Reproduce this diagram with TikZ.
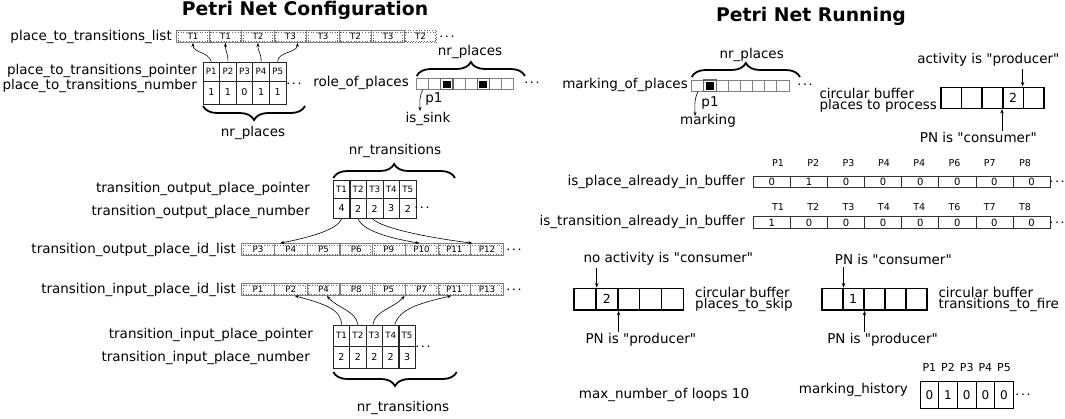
\documentclass[tikz,border=0pt]{standalone}
\usepackage{fontspec}
\setmainfont{DejaVu Sans}[Ligatures=TeXOff]
\usetikzlibrary{arrows.meta,decorations.pathreplacing,calc}
\tikzset{
  lbl/.style={inner sep=0pt, font=\fontsize{13.5}{15}\selectfont},
  lbltwo/.style={inner sep=0pt, align=left, font=\fontsize{13.5}{11.7}\selectfont},
  ttl/.style={inner sep=0pt, font=\fontsize{18.8}{20}\selectfont\bfseries},
  lcell/.style={draw=black!50, line width=0.7pt, minimum width=32.6pt, minimum height=12pt, inner sep=0pt, font=\fontsize{8.7}{9}\selectfont},
  grp/.style={draw=black!60, dotted, line width=0.7pt},
  tcell/.style={draw=black!85, line width=0.8pt, minimum width=16.6pt, inner sep=0pt, font=\fontsize{8.7}{9}\selectfont},
  tval/.style={font=\fontsize{9.5}{10}\selectfont},
  scell/.style={draw=black!50, line width=0.8pt, minimum width=12.1pt, minimum height=11pt, inner sep=0pt},
  blk/.style={scell, draw=black!60, line width=1.1pt, path picture={\fill[black] ([shift={(2pt,2pt)}]path picture bounding box.south west) rectangle ([shift={(-2pt,-2pt)}]path picture bounding box.north east);}},
  bcell/.style={draw=black, line width=1.6pt, inner sep=0pt, font=\fontsize{12.5}{12.5}\selectfont},
  acell/.style={draw=black!80, line width=0.7pt, minimum width=37.1pt, minimum height=11.4pt, inner sep=0pt, font=\fontsize{10}{10}\selectfont},
  hcell/.style={draw=black, line width=0.9pt, minimum width=18.7pt, minimum height=26.6pt, inner sep=0pt, font=\fontsize{12}{12}\selectfont},
  hdr/.style={inner sep=0pt, font=\fontsize{9.5}{10}\selectfont},
  hdrb/.style={inner sep=0pt, font=\fontsize{11}{11}\selectfont},
  dots/.style={inner sep=0pt, font=\fontsize{11}{11}\selectfont},
  brc/.style={decorate, decoration={brace, amplitude=14pt}, line width=1.8pt},
  arr/.style={-{Stealth[length=4pt,width=3pt]}, line width=0.6pt},
  varr/.style={-{Stealth[length=4.5pt,width=3.5pt]}, line width=0.8pt},
}
\newcommand{\mydots}{{\boldmath$\cdots$}}
\begin{document}
\begin{tikzpicture}[x=1pt,y=-1pt]
\useasboundingbox[fill=white] (0,0) rectangle (1065,418);

% ---------- titles
\node[ttl] (t1) at (305,10.5) {Petri Net Configuration};
\node[ttl] (t2) at (811,16.5) {Petri Net Running};

% ---------- place_to_transitions_list
\node[lbl, anchor=east] (lptl) at (172,36.5) {place\_to\_transitions\_list};
\foreach \lab [count=\i] in {T1,T1,T2,T3,T3,T2,T3}{
  \node[lcell] (pl\i) at ({192.95+32.5*(\i-1)},36.5) {\lab};
  \draw[grp] ([shift={(2pt,-2pt)}]pl\i.north west) rectangle ([shift={(-2pt,2pt)}]pl\i.south east);
}
\node[lcell, draw=black!60, dotted] (pl8) at (420.45,36.5) {T2};
\draw[grp] ([shift={(2pt,-2pt)}]pl8.north west) rectangle ([shift={(-2pt,2pt)}]pl8.south east);
\node[dots] (pld) at (447,36.5) {\mydots};

% ---------- place_to_transitions pointer / number
\node[lbl, anchor=east] (lptp) at (197,71) {place\_to\_transitions\_pointer};
\node[lbl, anchor=east] (lptn) at (197,86) {place\_to\_transitions\_number};
\foreach \p/\n [count=\i] in {P1/1,P2/1,P3/0,P4/1,P5/1}{
  \node[tcell, minimum height=19pt] (ptp\i) at ({211.3+16.6*(\i-1)},71.5) {\p};
  \node[tcell, tval, minimum height=23pt] (ptn\i) at ({211.3+16.6*(\i-1)},92.5) {\n};
}
\node[dots] (ptd) at (294,84) {\mydots};
\draw[brc] (305,106) -- (203,106);
\node[lbl] (nrp1) at (253,133) {nr\_places};
\draw[arr] (ptp1.north) .. controls +(-3,-10) and +(0,10) .. (pl1.south);
\draw[arr] (ptp2.north) .. controls +(0,-10) and +(0,10) .. (pl2.south);
\draw[arr] (ptp4.north) .. controls +(0,-10) and +(0,10) .. (pl3.south);
\draw[arr] (ptp5.north) .. controls +(0,-10) and +(0,10) .. ([xshift=7pt]pl4.south);

% ---------- role_of_places
\node[lbl, anchor=east] (lrp) at (409,83) {role\_of\_places};
\foreach \i in {1,2,4,5,7,8}{
  \node[scell] (rp\i) at ({422.75+12.08*(\i-1)},84) {};
}
\foreach \i in {3,6}{
  \node[blk] (rp\i) at ({422.75+12.08*(\i-1)},84) {};
}
\draw[brc] (416.7,76) -- (525,76);
\node[lbl] (nrp2) at (470,52) {nr\_places};
\node[dots] (rpd) at (532,83) {\mydots};
\coordinate (sinkend) at (420,111);
\draw[arr] (rp1.south) .. controls +(-4,8) and +(0,-8) .. (sinkend);
\node[lbl] (p1a) at (434,99) {p1};
\node[lbl] (sink) at (428,119) {is\_sink};

% ---------- transition output pointer / number
\node[lbl, anchor=east] (ltop) at (310,189) {transition\_output\_place\_pointer};
\node[lbl, anchor=east] (lton) at (310,211.5) {transition\_output\_place\_number};
\foreach \p/\n [count=\i] in {T1/4,T2/2,T3/2,T4/3,T5/2}{
  \node[tcell, minimum height=18.5pt] (tp\i) at ({341.6+16.55*(\i-1)},189.25) {\p};
  \node[tcell, tval, minimum height=20pt] (tn\i) at ({341.6+16.55*(\i-1)},208.5) {\n};
}
\node[dots] (tod) at (422,208) {\mydots};
\draw[brc] (333.3,178) -- (455,178);
\node[lbl] (nrt1) at (395,151) {nr\_transitions};

% ---------- transition_output_place_id_list
\node[lbl, anchor=east] (lopl) at (236,249.5) {transition\_output\_place\_id\_list};
\foreach \lab [count=\i] in {P3,P4,P5,P6,P9,P10,P11,P12}{
  \node[lcell] (ol\i) at ({258.05+32.7*(\i-1)},249.5) {\lab};
}
\draw[grp] ([shift={(2pt,-2pt)}]ol1.north west) rectangle ([shift={(-2pt,2pt)}]ol4.south east);
\draw[grp] ([shift={(2pt,-2pt)}]ol5.north west) rectangle ([shift={(-2pt,2pt)}]ol6.south east);
\draw[grp] ([shift={(2pt,-2pt)}]ol7.north west) rectangle ([shift={(-2pt,2pt)}]ol8.south east);
\node[dots] (old) at (514,249.5) {\mydots};
\draw[arr] (tn1.south) .. controls +(-5,12) and +(25,-5) .. ([xshift=6pt]ol2.north west);
\draw[arr] (tn2.south) .. controls +(5,12) and +(-30,-5) .. ([xshift=-2pt]ol6.north);
\draw[arr] ([xshift=-2pt]tn3.south) .. controls +(10,10) and +(-40,-5) .. ([xshift=2pt]ol8.north west);

% ---------- transition_input_place_id_list
\node[lbl, anchor=east] (lipl) at (236,289.5) {transition\_input\_place\_id\_list};
\foreach \lab [count=\i] in {P1,P2,P4,P8,P5,P7,P11,P13}{
  \node[lcell] (il\i) at ({258.05+32.7*(\i-1)},289.5) {\lab};
}
\draw[grp] ([shift={(2pt,-2pt)}]il1.north west) rectangle ([shift={(-2pt,2pt)}]il2.south east);
\draw[grp] ([shift={(2pt,-2pt)}]il3.north west) rectangle ([shift={(-2pt,2pt)}]il4.south east);
\draw[grp] ([shift={(2pt,-2pt)}]il5.north west) rectangle ([shift={(-2pt,2pt)}]il6.south east);
\draw[grp] ([shift={(2pt,-2pt)}]il7.north west) rectangle ([shift={(-2pt,2pt)}]il8.south east);
\node[dots] (ild) at (514,289.5) {\mydots};

% ---------- transition input pointer / number
\node[lbl, anchor=east] (ltip) at (313,335) {transition\_input\_place\_pointer};
\node[lbl, anchor=east] (ltin) at (310,357.5) {transition\_input\_place\_number};
\foreach \p/\n [count=\i] in {T1/2,T2/2,T3/2,T4/2,T5/3}{
  \node[tcell, minimum height=21pt] (ip\i) at ({341.5+16.4*(\i-1)},335.5) {\p};
  \node[tcell, tval, minimum height=22pt] (in\i) at ({341.5+16.4*(\i-1)},357) {\n};
}
\node[dots] (tid) at (423,347) {\mydots};
\draw[brc] (456.7,372) -- (333.3,372);
\node[lbl] (nrt2) at (403,408) {nr\_transitions};
\draw[arr] (ip1.north) .. controls +(0,-15) and +(30,8) .. ([xshift=4pt]il2.south);
\draw[arr] (ip2.north) .. controls +(-2,-14) and +(10,12) .. ([xshift=3.5pt]il3.south);
\draw[arr] ([xshift=-1.5pt]ip3.north) .. controls +(2,-14) and +(-10,12) .. ([xshift=-1pt]il5.south east);
\draw[arr] ([xshift=4pt]ip4.north) .. controls +(5,-15) and +(-35,8) .. ([xshift=-3pt]il7.south);

% ---------- marking_of_places
\node[lbl, anchor=east] (lmp) at (688,85) {marking\_of\_places};
\foreach \i in {1,3,4,5,6,7,8}{
  \node[scell, minimum width=12.16pt, minimum height=11.7pt] (mp\i) at ({697.8+12.16*(\i-1)},85.8) {};
}
\node[blk, minimum width=12.16pt, minimum height=11.7pt] (mp2) at (709.96,85.8) {};
\draw[brc] (691.7,77) -- (800,77);
\node[lbl] (nrp3) at (751.7,55) {nr\_places};
\node[dots] (mpd) at (805,85) {\mydots};
\coordinate (markend) at (695,116);
\draw[arr] (mp1.south) .. controls +(-4,8) and +(0,-8) .. (markend);
\node[lbl] (p1b) at (710,102.5) {p1};
\node[lbl] (mark) at (708,120.5) {marking};

% ---------- circular buffer places to process
\node[bcell, minimum width=20.6pt, minimum height=21pt] (pp1) at (951.3,97.8) {};
\node[bcell, minimum width=20.6pt, minimum height=21pt] (pp2) at (971.9,97.8) {};
\node[bcell, minimum width=20.6pt, minimum height=21pt] (pp3) at (992.5,97.8) {};
\node[bcell, minimum width=20.6pt, minimum height=21pt] (pp4) at (1013.1,97.8) {2};
\node[bcell, minimum width=20.6pt, minimum height=21pt] (pp5) at (1033.7,97.8) {};
\node[lbltwo, anchor=west] (cbp) at (819.3,100.2) {circular buffer\\places to process};
\node[lbl] (actp) at (988.3,60) {activity is "producer"};
\draw[varr] ([yshift=-2pt]actp.south -| pp5.north west) -- (pp5.north west);
\node[lbl] (pncp) at (978.3,137) {PN is "consumer"};
\draw[varr] ([yshift=1pt]pncp.north -| pp4.south west) -- (pp4.south west);

% ---------- is_place_already_in_buffer
\node[lbl, anchor=east] (lipb) at (745,181.7) {is\_place\_already\_in\_buffer};
\foreach \v [count=\i] in {0,1,0,0,0,0,0,0}{
  \node[acell] (ab\i) at ({771.85+37.09*(\i-1)},181.7) {\v};
}
\foreach \h [count=\i] in {P1,P2,P3,P4,P4,P6,P7,P8}{
  \node[hdr] (abh\i) at ({778+35.3*(\i-1)},162.7) {\h};
}
\node[dots] (abd) at (1057,181.7) {\mydots};

% ---------- is_transition_already_in_buffer
\node[lbl, anchor=east] (litb) at (745,222) {is\_transition\_already\_in\_buffer};
\foreach \v [count=\i] in {1,0,0,0,0,0,0,0}{
  \node[acell] (tb\i) at ({771.85+37.09*(\i-1)},222.5) {\v};
}
\foreach \h [count=\i] in {T1,T2,T3,T4,T4,T6,T7,T8}{
  \node[hdr] (tbh\i) at ({778+35.3*(\i-1)},206.7) {\h};
}
\node[dots] (tbd) at (1057,222.5) {\mydots};

% ---------- circular buffer places_to_skip
\node[bcell, minimum width=21.86pt, minimum height=21.7pt] (sk1) at (585,299.2) {};
\node[bcell, minimum width=21.86pt, minimum height=21.7pt] (sk2) at (606.86,299.2) {2};
\node[bcell, minimum width=21.86pt, minimum height=21.7pt] (sk3) at (628.72,299.2) {};
\node[bcell, minimum width=21.86pt, minimum height=21.7pt] (sk4) at (650.58,299.2) {};
\node[bcell, minimum width=21.86pt, minimum height=21.7pt] (sk5) at (672.44,299.2) {};
\node[lbltwo, anchor=west] (cbs) at (695,299.5) {circular buffer\\places\_to\_skip};
\node[lbl] (nacs) at (668.3,258.3) {no activity is "consumer"};
\draw[varr] ([yshift=-3pt]nacs.south -| sk1.north east) -- (sk1.north east);
\node[lbl] (pnps) at (640.8,340) {PN is "producer"};
\draw[varr] ([yshift=1pt]pnps.north -| sk2.south east) -- (sk2.south east);

% ---------- circular buffer transitions_to_fire
\node[bcell, minimum width=21pt, minimum height=21.7pt] (tf1) at (832.2,299.2) {};
\node[bcell, minimum width=21pt, minimum height=21.7pt] (tf2) at (853.2,299.2) {1};
\node[bcell, minimum width=21pt, minimum height=21.7pt] (tf3) at (874.2,299.2) {};
\node[bcell, minimum width=21pt, minimum height=21.7pt] (tf4) at (895.2,299.2) {};
\node[bcell, minimum width=21pt, minimum height=21.7pt] (tf5) at (916.2,299.2) {};
\node[lbltwo, anchor=west] (cbt) at (938.3,299.5) {circular buffer\\transitions\_to\_fire};
\node[lbl] (pnct) at (893.3,259.3) {PN is "consumer"};
\draw[varr] ([yshift=-2pt]pnct.south -| tf1.north east) -- (tf1.north east);
\node[lbl] (pnpt) at (882.5,339.3) {PN is "producer"};
\draw[varr] ([yshift=1pt]pnpt.north -| tf2.south east) -- (tf2.south east);

% ---------- max loops and marking history
\node[lbl] (maxl) at (664,395) {max\_number\_of loops 10};
\node[lbl, anchor=east] (lmh) at (908,390) {marking\_history};
\foreach \v [count=\i] in {0,1,0,0,0}{
  \node[hcell] (mh\i) at ({929.33+18.67*(\i-1)},395) {\v};
}
\foreach \h [count=\i] in {P1,P2,P3,P4,P5}{
  \node[hdrb] (mhh\i) at ({929.33+18.67*(\i-1)},367.7) {\h};
}
\node[dots] (mhd) at (1023,395) {\mydots};
\end{tikzpicture}
\end{document}
